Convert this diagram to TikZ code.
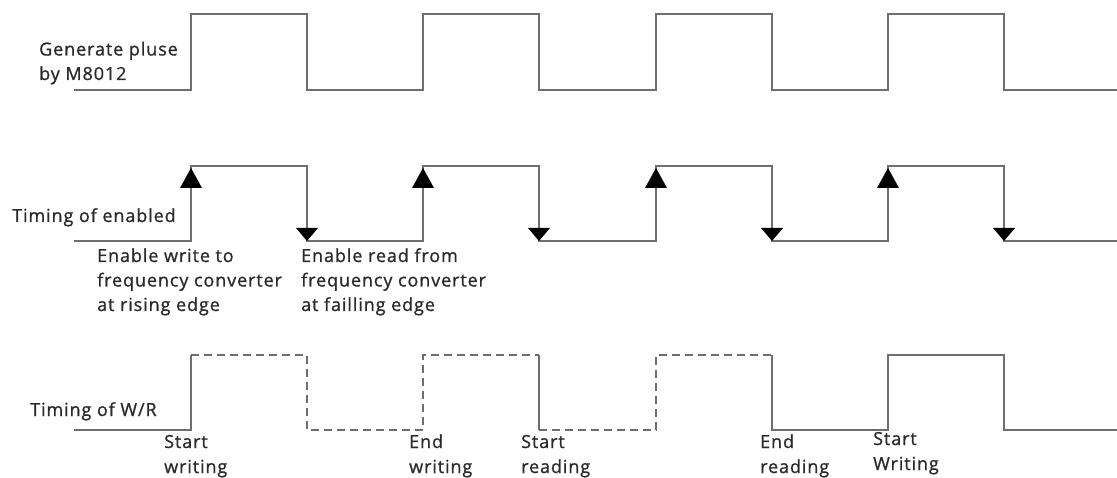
\documentclass[tikz,border=0pt]{standalone}
\usepackage{fontspec}
\setmainfont{Open Sans}[LetterSpace=5.0,FakeBold=0.9]
\definecolor{wave}{HTML}{6E6E6E}
\definecolor{txt}{HTML}{2A2A2A}
\begin{document}
\begin{tikzpicture}[x=1pt,y=-1pt,
  lbl/.style={anchor=base west,inner sep=0pt,align=left,text=txt,
    font=\fontsize{18}{24.5}\selectfont},
  wv/.style={draw=wave,line width=1.5pt,line join=miter},
  wvd/.style={wv,dash pattern=on 8pt off 5pt},
  tri/.style={fill=black,draw=none},
]
\useasboundingbox (0,0) rectangle (1117,478);
\fill[white] (0,0) rectangle (1117,478);

% ---------- top waveform ----------
\draw[wv] (74,90) -- (191,90) -- (191,14) -- (307,14) -- (307,90) -- (423,90) -- (423,14)
  -- (539,14) -- (539,90) -- (656,90) -- (656,14) -- (772,14) -- (772,90) -- (888,90)
  -- (888,14) -- (1004,14) -- (1004,90) -- (1117,90);
\node[lbl] (gen) at (39,80) {Generate pluse\\by M8012};

% ---------- middle waveform ----------
\draw[wv] (74,241) -- (191,241) -- (191,166) -- (307,166) -- (307,241) -- (423,241) -- (423,166)
  -- (539,166) -- (539,241) -- (656,241) -- (656,166) -- (772,166) -- (772,241) -- (888,241)
  -- (888,166) -- (1004,166) -- (1004,241) -- (1117,241);
\foreach \x in {191,423,656,888}{
  \fill[tri] (\x,168) -- (\x+11,188) -- (\x-11,188) -- cycle;
}
\foreach \x in {307,539,772,1004}{
  \fill[tri] (\x,241) -- (\x+11,228) -- (\x-11,228) -- cycle;
}
\node[lbl] (ten) at (12,222) {Timing of enabled};
\node[lbl] (ew) at (97,311) {Enable write to\\frequency converter\\at rising edge};
\node[lbl] (er) at (301,311) {Enable read from\\frequency converter\\at failling edge};

% ---------- bottom waveform ----------
\draw[wv] (74,430) -- (191,430) -- (191,355);
\draw[wvd] (191,355) -- (307,355) -- (307,430) -- (423,430) -- (423,355) -- (539,355);
\draw[wv] (539,355) -- (539,430);
\draw[wvd] (539,430) -- (656,430) -- (656,355) -- (772,355);
\draw[wv] (772,355) -- (772,430) -- (888,430) -- (888,355) -- (1004,355) -- (1004,430) -- (1117,430);
\node[lbl] (twr) at (30,416) {Timing of W/R};
\begin{scope}[lbl/.append style={font=\fontsize{18}{25}\selectfont}]
\node[lbl] (sw) at (164,473) {Start\\writing};
\node[lbl] (ewr) at (409,473) {End\\writing};
\node[lbl] (sr) at (521,473) {Start\\reading};
\node[lbl] (erd) at (760,473) {End\\reading};
\node[lbl] (sW) at (873,470) {Start\\Writing};
\end{scope}
\end{tikzpicture}
\end{document}
